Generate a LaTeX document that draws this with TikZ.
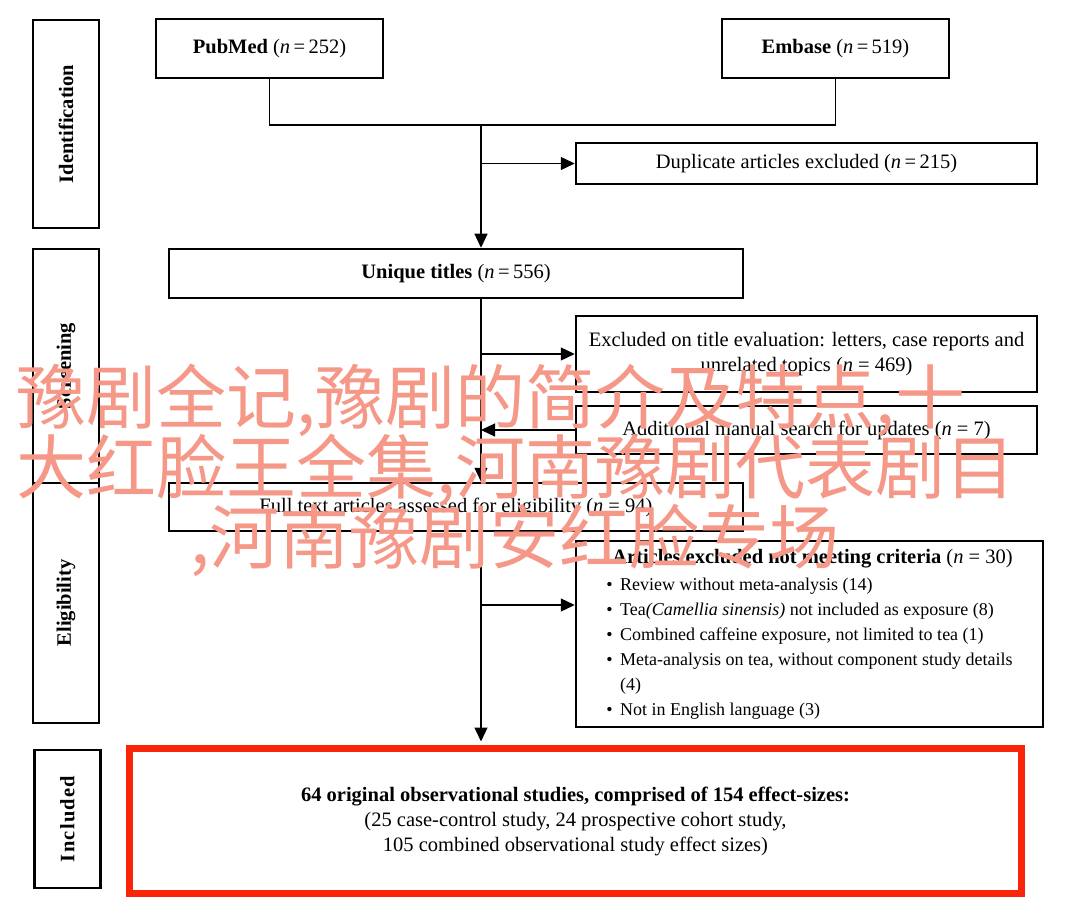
\documentclass[tikz,border=0pt]{standalone}
\usepackage{fontspec}
\setmainfont{Liberation Serif}
\newfontfamily\cjkfont{Noto Sans CJK SC}
\usepackage{xcolor}
\usetikzlibrary{arrows.meta}
\definecolor{inclred}{RGB}{250,36,8}
\definecolor{markcolor}{RGB}{245,152,136}
\newcommand{\flowsize}{\fontsize{20.5}{25}\selectfont}
\newcommand{\listsize}{\fontsize{18}{24}\selectfont}
\tikzset{
  stagebox/.style={draw, line width=2.5pt, rotate=90, inner sep=0pt, minimum height=66pt, font=\flowsize\bfseries},
  flowbox/.style={draw, line width=2.5pt, align=center, inner sep=0pt, font=\flowsize},
  flowline/.style={line width=1.3pt},
  flowarrow/.style={line width=1.3pt, -{Triangle[length=14pt,width=13pt]}},
  marktext/.style={anchor=base west, inner sep=0pt, text=markcolor, font=\cjkfont\fontsize{70}{70}\selectfont},
}

\begin{document}
\begin{tikzpicture}[x=1pt, y=-1pt]
  \useasboundingbox[fill=white] (0,0) rectangle (1080,915);
  \node[stagebox, minimum width=208pt] (ident) at (66,124) {Identification};
  \node[stagebox, minimum width=234pt] (screen) at (66,366) {Screening};
  \node[stagebox, minimum width=240pt] (elig) at (66,603) {Eligibility};
  \node[stagebox, minimum width=138pt, font=\flowsize\bfseries\addfontfeatures{LetterSpace=6}] (incl) at (67.5,819) {Included};
  \node[flowbox, minimum width=227pt, minimum height=59pt] (pubmed) at (269.5,48.5) {\textbf{PubMed} (\textit{n}\,=\,252)};
  \node[flowbox, minimum width=227pt, minimum height=59pt] (embase) at (835.5,48.5) {\textbf{Embase} (\textit{n}\,=\,519)};
  \node[flowbox, minimum width=461pt, minimum height=41pt] (dup) at (806.5,163.5) {Duplicate articles excluded (\textit{n}\,=\,215)};
  \node[flowbox, minimum width=574pt, minimum height=49pt] (unique) at (456,273.5) {\textbf{Unique titles} (\textit{n}\,=\,556)};
  \node[flowbox, minimum width=461pt, minimum height=76pt] (excl) at (806.5,354) {Excluded on title evaluation: letters, case reports and\\unrelated topics (\textit{n} = 469)};
  \node[flowbox, minimum width=461pt, minimum height=48pt] (addl) at (806.5,430) {Additional manual search for updates (\textit{n} = 7)};
  \node[flowbox, minimum width=574pt, minimum height=48pt] (fulltext) at (456,507) {Full text articles assessed for eligibility (\textit{n} = 94)};
  \node[flowbox, align=left, minimum width=467pt, minimum height=186pt] (crit) at (809.5,634) {\hspace*{6pt}\textbf{Articles excluded not meeting criteria} (\textit{n} = 30)\\[2pt]
    \listsize\textbullet\hspace{7.5pt}Review without meta-analysis (14)\\
    \listsize\textbullet\hspace{7.5pt}Tea\textit{(Camellia sinensis)} not included as exposure (8)\\
    \listsize\textbullet\hspace{7.5pt}Combined caffeine exposure, not limited to tea (1)\\
    \listsize\textbullet\hspace{7.5pt}Meta-analysis on tea, without component study details\\
    \listsize\phantom{\textbullet}\hspace{7.5pt}(4)\\
    \listsize\textbullet\hspace{7.5pt}Not in English language (3)};
  \node[flowbox, draw=inclred, line width=7pt, minimum width=892pt, minimum height=145pt] (result) at (575.5,821) {\textbf{64 original observational studies, comprised of 154 effect-sizes:}\\(25 case-control study, 24 prospective cohort study,\\105 combined observational study effect sizes)};
  \coordinate (merge) at (481,125);
  \coordinate (critin) at (481,605);
  \draw[flowline] (pubmed.south) |- (merge) -| (embase.south);
  \draw[flowarrow] (merge) -- (merge |- unique.north);
  \draw[flowarrow] (merge |- dup.west) -- (dup.west);
  \draw[flowarrow] (unique.south -| merge) -- (fulltext.north -| merge);
  \draw[flowarrow] (excl.west -| merge) -- (excl.west);
  \draw[flowarrow] (addl.west) -- (addl.west -| merge);
  \draw[flowarrow] (fulltext.south -| merge) -- ([yshift=3.5pt]result.north -| merge);
  \draw[flowarrow] (critin) -- (critin -| crit.west);
  \node[marktext] (mark1) at (16,423) {豫剧全记,豫剧的简介及特点,十};
  \node[marktext] (mark2) at (16,493) {大红脸王全集,河南豫剧代表剧目};
  \node[marktext] (mark3) at (190,563) {,河南豫剧安红脸专场};
\end{tikzpicture}
\end{document}
